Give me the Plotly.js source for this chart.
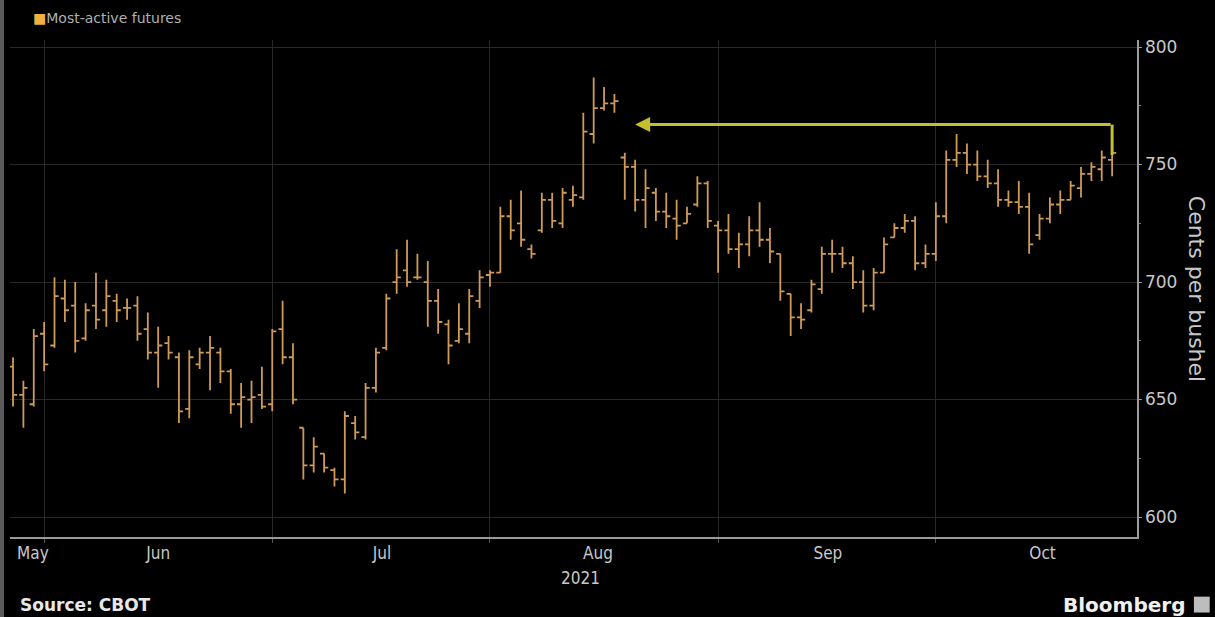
<!DOCTYPE html>
<html><head><meta charset="utf-8">
<script src="https://cdn.plot.ly/plotly-3.0.1.min.js"></script>
<style>html,body{margin:0;padding:0;background:#000;overflow:hidden}#chart{width:1215px;height:617px}</style>
</head><body><div id="chart"></div>
<script>
// Trading days (CBOT most-active wheat futures), 2021
const dates = [
'2021-05-26','2021-05-27','2021-05-28',
'2021-06-01','2021-06-02','2021-06-03','2021-06-04','2021-06-07','2021-06-08','2021-06-09','2021-06-10','2021-06-11',
'2021-06-14','2021-06-15','2021-06-16','2021-06-17','2021-06-18','2021-06-21','2021-06-22','2021-06-23','2021-06-24','2021-06-25',
'2021-06-28','2021-06-29','2021-06-30',
'2021-07-01','2021-07-02','2021-07-06','2021-07-07','2021-07-08','2021-07-09','2021-07-12','2021-07-13','2021-07-14','2021-07-15','2021-07-16',
'2021-07-19','2021-07-20','2021-07-21','2021-07-22','2021-07-23','2021-07-26','2021-07-27','2021-07-28','2021-07-29','2021-07-30',
'2021-08-02','2021-08-03','2021-08-04','2021-08-05','2021-08-06','2021-08-09','2021-08-10','2021-08-11','2021-08-12','2021-08-13',
'2021-08-16','2021-08-17','2021-08-18','2021-08-19','2021-08-20','2021-08-23','2021-08-24','2021-08-25','2021-08-26','2021-08-27',
'2021-08-30','2021-08-31',
'2021-09-01','2021-09-02','2021-09-03','2021-09-07','2021-09-08','2021-09-09','2021-09-10','2021-09-13','2021-09-14','2021-09-15',
'2021-09-16','2021-09-17','2021-09-20','2021-09-21','2021-09-22','2021-09-23','2021-09-24','2021-09-27','2021-09-28','2021-09-29','2021-09-30',
'2021-10-01','2021-10-04','2021-10-05','2021-10-06','2021-10-07','2021-10-08','2021-10-11','2021-10-12','2021-10-13','2021-10-14','2021-10-15',
'2021-10-18','2021-10-19','2021-10-20','2021-10-21','2021-10-22','2021-10-25','2021-10-26'
];
const openP = [664,652,648,678,673,693,690,676,690,688,692,689,690,680,670,674,668,646,665,670,670,662,648,650,652,
648,680,668,638,622,627,620,616,640,634,655,672,700,705,702,700,692,682,675,678,692,
703,704,728,725,714,722,735,725,735,736,763,774,776,753,749,735,738,730,727,725,733,742,
724,722,714,716,722,718,712,695,685,688,697,712,712,708,700,690,704,719,723,726,708,
712,728,752,755,750,745,742,735,734,732,720,727,733,735,740,746,748,752];
const highP = [668,658,680,683,702,701,700,691,704,701,695,693,694,687,681,677,670,671,672,677,672,663,657,658,664,
680,692,674,638,634,627,621,645,643,657,672,695,714,718,712,709,697,684,691,697,705,
705,732,735,739,716,738,738,740,741,772,787,783,780,755,752,748,740,738,735,732,745,743,
726,729,721,728,734,723,712,695,691,701,715,718,715,711,705,706,719,725,729,728,716,
734,756,763,759,756,752,748,739,743,738,729,736,739,743,749,751,756,760];
const lowP = [647,638,647,662,672,683,670,675,680,681,683,684,675,667,655,667,640,642,663,654,657,644,638,640,646,
645,665,648,616,619,619,613,610,633,633,653,671,695,698,701,681,678,665,674,674,689,
698,704,718,715,710,721,723,723,732,735,759,773,772,735,730,723,726,723,718,725,732,723,
704,712,706,711,715,708,692,677,680,687,695,704,706,697,687,688,704,719,721,705,706,
709,725,749,746,743,740,732,732,729,712,718,725,729,735,736,743,743,745];
const closeP = [652,655,677,665,694,688,675,688,684,694,688,689,678,670,673,670,645,668,670,672,662,648,651,651,647,
679,668,650,622,630,621,616,643,636,655,670,693,702,700,702,692,683,673,680,694,702,
704,728,722,718,712,735,726,738,737,764,774,776,777,749,735,740,730,728,724,729,742,726,
722,714,716,722,718,713,696,685,684,699,712,712,708,700,690,704,716,723,726,708,712,
728,752,755,750,745,742,735,734,732,716,727,733,735,741,746,749,753,755];

const holidays = ['2021-05-31','2021-07-05','2021-09-06'];
const monthLabelDates = ['2021-05-27 22:00','2021-06-16','2021-07-16 14:00','2021-08-16 10:00','2021-09-16 14:00','2021-10-15 07:00'];
const monthLabels = ['May','Jun','Jul','Aug','Sep','Oct'];
const yTickVals = [600,650,700,750,800];
const yTickText = ['600','650','700','750','800'];
const xRange = ['2021-05-25 17:00','2021-10-28 09:36'];
const yRange = [591.5, 803];
const arrowTail = {x:'2021-10-26', y:767, yStart:754};
const arrowHead = {x:'2021-08-20', y:767};

const seriesName = 'Most-active futures';
const barColor = '#cf9a55';
const arrowColor = '#c2c02c';
const axisColor = '#9a9a9a';
const gridColor = '#282828';
const textColor = '#c8c8c8';

// first trading day of each month -> month gridlines
const monthStarts = dates.filter((d,i)=> i>0 && d.slice(5,7)!==dates[i-1].slice(5,7));

const trace = {
  type:'ohlc', x:dates, open:openP, high:highP, low:lowP, close:closeP,
  name:seriesName, showlegend:false, tickwidth:0.4, hoverinfo:'skip',
  increasing:{line:{color:barColor, width:1.8}},
  decreasing:{line:{color:barColor, width:1.8}}
};

const font = "'DejaVu Sans Condensed','Liberation Sans Narrow','DejaVu Sans',sans-serif";

const layout = {
  width:1215, height:617,
  paper_bgcolor:'#000', plot_bgcolor:'#000',
  margin:{l:10, r:78, t:40, b:80},
  showlegend:false,
  font:{family:font, color:textColor},
  xaxis:{
    type:'date', range:xRange, rangeslider:{visible:false},
    rangebreaks:[{bounds:['sat','mon']},{values:holidays}],
    tickmode:'array', tickvals:monthLabelDates, ticktext:monthLabels,
    ticks:'', showgrid:false, zeroline:false,
    showline:true, linecolor:axisColor, linewidth:1.5,
    tickfont:{family:font, size:17, color:textColor},
    minor:{tickmode:'array', tickvals:monthStarts, showgrid:true, gridcolor:gridColor, gridwidth:1,
           ticks:'outside', ticklen:4, tickcolor:'#555'},
    fixedrange:true
  },
  yaxis:{
    side:'right', range:yRange, tickmode:'array', tickvals:yTickVals, ticktext:yTickText,
    showgrid:true, gridcolor:gridColor, gridwidth:1, zeroline:false,
    showline:true, linecolor:axisColor, linewidth:1.5,
    ticks:'outside', ticklen:3, tickcolor:axisColor,
    minor:{dtick:25, ticks:'outside', ticklen:2, tickcolor:'#777', showgrid:false},
    tickfont:{family:"'DejaVu Sans',sans-serif", size:17, color:textColor},
    fixedrange:true
  },
  shapes:[
    {type:'line', xref:'x', yref:'y', x0:arrowTail.x, x1:arrowTail.x, y0:arrowTail.yStart, y1:arrowTail.y,
     line:{color:arrowColor, width:3}},
    {type:'rect', xref:'paper', yref:'paper', x0:-0.0089, x1:-0.0053, y0:-0.162, y1:1.082,
     fillcolor:'#5a5a5a', line:{width:0}},
    {type:'rect', xref:'paper', yref:'paper', x0:1.0505, x1:1.0645, y0:-0.152, y1:-0.12,
     fillcolor:'#bdbdbd', line:{width:0}}
  ],
  annotations:[
    {x:arrowHead.x, y:arrowHead.y, ax:arrowTail.x, ay:arrowTail.y, xref:'x', yref:'y', axref:'x', ayref:'y',
     text:'', showarrow:true, arrowhead:2, arrowsize:1, arrowwidth:3, arrowcolor:arrowColor, standoff:0},
    {xref:'paper', yref:'paper', x:0.019, y:1.044, xanchor:'left', yanchor:'middle', showarrow:false,
     text:"<span style='color:#f2b13c'>■</span>"+seriesName, font:{family:"'DejaVu Sans',sans-serif", size:14, color:'#b0b0b0'}},
    {xref:'paper', yref:'paper', x:0.506, y:-0.083, xanchor:'center', yanchor:'middle', showarrow:false,
     text:'2021', font:{family:font, size:17, color:textColor}},
    {xref:'paper', yref:'paper', x:1.053, y:0.5, xanchor:'center', yanchor:'middle', showarrow:false,
     text:'Cents per bushel', textangle:90, font:{family:"'DejaVu Sans',sans-serif", size:22, color:textColor}},
    {xref:'paper', yref:'paper', x:0.007, y:-0.137, xanchor:'left', yanchor:'middle', showarrow:false,
     text:'<b>Source: CBOT</b>', font:{family:"'DejaVu Sans',sans-serif", size:17, color:'#e8e8e8'}},
    {xref:'paper', yref:'paper', x:1.044, y:-0.137, xanchor:'right', yanchor:'middle', showarrow:false,
     text:'<b>Bloomberg</b>', font:{family:"'DejaVu Sans',sans-serif", size:20, color:'#f0f0f0'}}
  ]
};

Plotly.newPlot('chart',[trace],layout,{displayModeBar:false, staticPlot:true});
</script>
</body></html>
